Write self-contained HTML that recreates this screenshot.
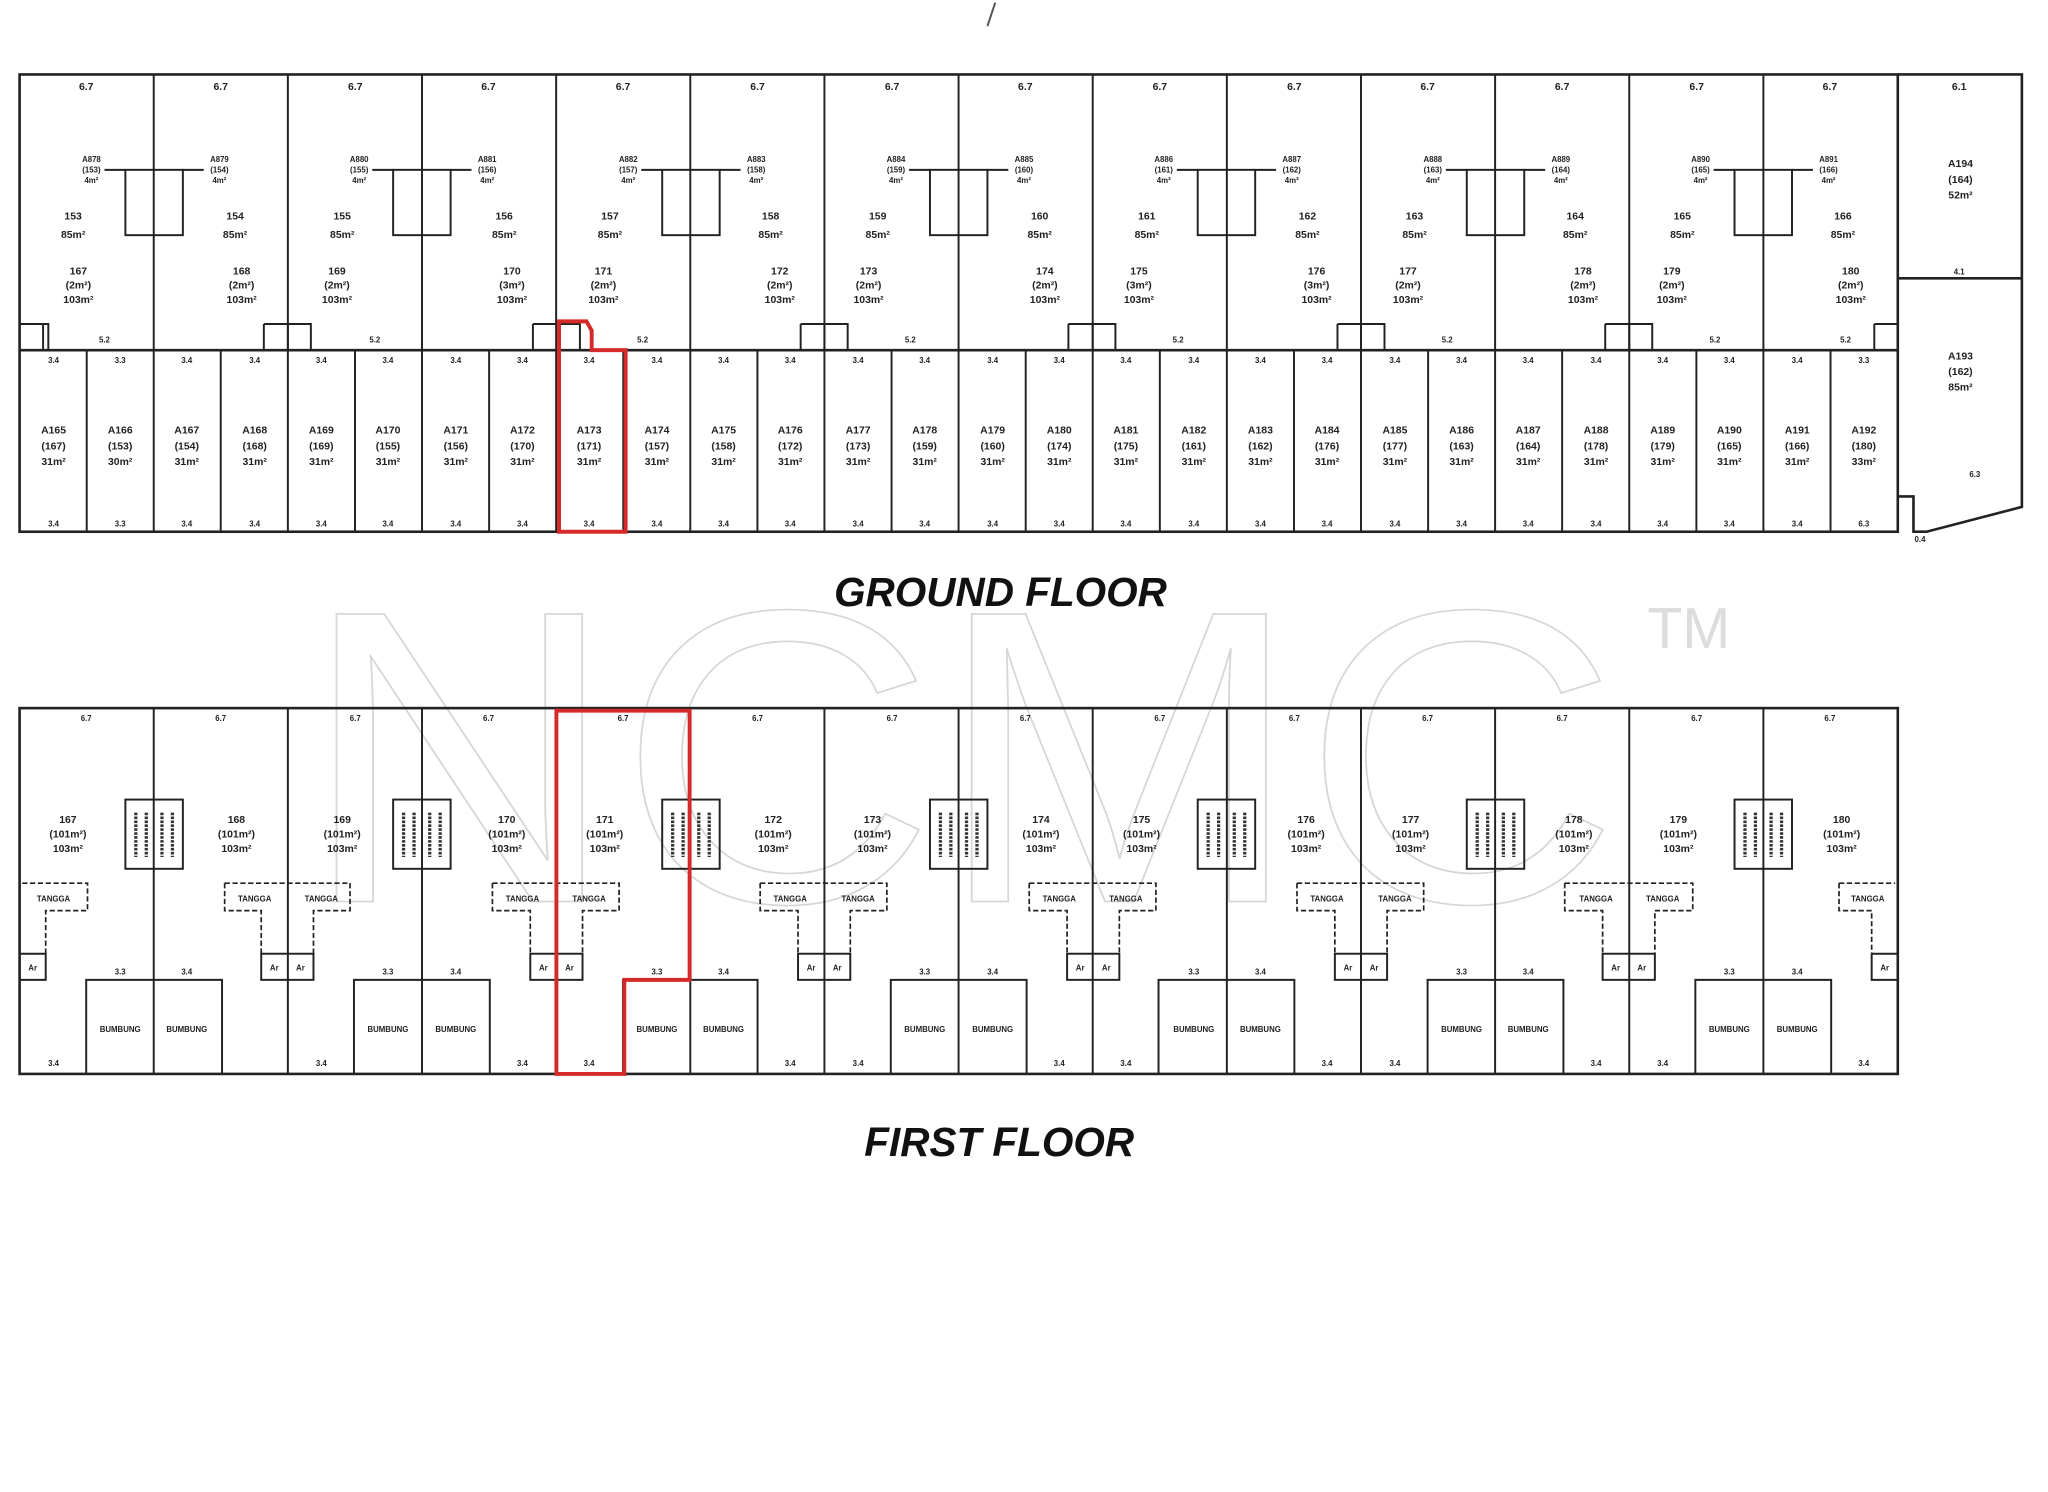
<!DOCTYPE html>
<html><head><meta charset="utf-8"><style>
html,body{margin:0;padding:0;background:#fff;}
svg{display:block;}
text{font-family:"Liberation Sans",sans-serif;fill:#222;text-anchor:middle;}
.s{font-size:8px;font-weight:bold;}
.m{font-size:9px;font-weight:bold;}
.t{font-size:6px;font-weight:bold;}
</style></head><body>
<svg width="2048" height="1492" viewBox="0 0 1568 1142" preserveAspectRatio="none" xmlns="http://www.w3.org/2000/svg">
<rect width="1568" height="1142" fill="#fff"/>
<!-- watermark -->
<text x="735" y="690" font-size="320" textLength="1010" lengthAdjust="spacingAndGlyphs" style="fill:none;stroke:#d6d6d6;stroke-width:1.3;font-family:'Liberation Sans',sans-serif">NCMC</text>
<text x="1293" y="496" font-size="44" style="fill:#dcdcdc">TM</text>
<line x1="762" y1="2" x2="756" y2="20" stroke="#555" stroke-width="1.5"/>

<g fill="none" stroke="#222" stroke-width="1.5">
<!-- GROUND FLOOR -->
<rect x="15" y="57" width="1438" height="350" stroke-width="2"/>
<line x1="15" y1="268" x2="1453" y2="268" stroke-width="2"/>
<path d="M117.7 57V268M220.4 57V268M323.1 57V268M425.8 57V268M528.5 57V268M631.2 57V268M733.9 57V268M836.6 57V268M939.3 57V268M1042 57V268M1144.7 57V268M1247.4 57V268M1350.1 57V268"/>
<path d="M66.4 268V407M117.7 268V407M169 268V407M220.4 268V407M271.8 268V407M323.1 268V407M374.5 268V407M425.8 268V407M477.2 268V407M528.5 268V407M579.9 268V407M631.2 268V407M682.6 268V407M733.9 268V407M785.3 268V407M836.6 268V407M888 268V407M939.3 268V407M990.7 268V407M1042 268V407M1093.4 268V407M1144.7 268V407M1196 268V407M1247.4 268V407M1298.8 268V407M1350.1 268V407M1401.5 268V407"/>
<!-- cores -->
<rect x="96" y="130" width="44" height="50"/><rect x="301" y="130" width="44" height="50"/><rect x="507" y="130" width="44" height="50"/><rect x="712" y="130" width="44" height="50"/><rect x="917" y="130" width="44" height="50"/><rect x="1123" y="130" width="44" height="50"/><rect x="1328" y="130" width="44" height="50"/>
<path d="M80 130H96M140 130H156M285 130H301M345 130H361M491 130H507M551 130H567M696 130H712M756 130H772M901 130H917M961 130H977M1107 130H1123M1167 130H1183M1312 130H1328M1372 130H1388"/>
<!-- small stairs -->
<path d="M15 248H37V268M33 248V268"/>
<path d="M202 248H238V268M202 248V268M220.4 248V268"/>
<path d="M408 248H444V268M408 248V268"/>
<path d="M613 248H649V268M613 248V268M631.2 248V268"/>
<path d="M818 248H854V268M818 248V268M836.6 248V268"/>
<path d="M1024 248H1060V268M1024 248V268M1042 248V268"/>
<path d="M1229 248H1265V268M1229 248V268M1247.4 248V268"/>
<path d="M1435 248H1453M1435 248V268"/>
<!-- right wing -->
<path d="M1453 57H1548V388L1475 407H1465V380H1453M1453 213H1548" stroke-width="2"/>
<!-- FIRST FLOOR -->
<rect x="15" y="542" width="1438" height="280" stroke-width="2"/>
<path d="M117.7 542V822M220.4 542V822M323.1 542V822M425.8 542V822M528.5 542V822M631.2 542V822M733.9 542V822M836.6 542V822M939.3 542V822M1042 542V822M1144.7 542V822M1247.4 542V822M1350.1 542V822"/>
<rect x="96" y="612" width="44" height="53"/><rect x="301" y="612" width="44" height="53"/><rect x="507" y="612" width="44" height="53"/><rect x="712" y="612" width="44" height="53"/><rect x="917" y="612" width="44" height="53"/><rect x="1123" y="612" width="44" height="53"/><rect x="1328" y="612" width="44" height="53"/>
<!-- bumbung -->
<path d="M66 822V750H170V822M271 822V750H375V822M477 822V750H580V822M682 822V750H786V822M887 822V750H991V822M1093 822V750H1197V822M1298 822V750H1402V822"/>
<!-- Ar boxes -->
<path d="M15 730H35V750H15"/>
<rect x="200" y="730" width="40" height="20"/><rect x="406" y="730" width="40" height="20"/><rect x="611" y="730" width="40" height="20"/><rect x="817" y="730" width="40" height="20"/><rect x="1022" y="730" width="40" height="20"/><rect x="1227" y="730" width="40" height="20"/>
<path d="M1433 730H1453M1433 730V750H1453"/>
</g>
<!-- dashed tangga -->
<g fill="none" stroke="#222" stroke-width="1.3" stroke-dasharray="4,2">
<path d="M17 676H67V697H35V730"/>
<path d="M172 676H268V697H240V730M172 676V697H200V730"/>
<path d="M377 676H474V697H446V730M377 676V697H406V730"/>
<path d="M582 676H679V697H651V730M582 676V697H611V730"/>
<path d="M788 676H885V697H857V730M788 676V697H817V730"/>
<path d="M993 676H1090V697H1062V730M993 676V697H1022V730"/>
<path d="M1198 676H1296V697H1267V730M1198 676V697H1227V730"/>
<path d="M1408 676H1451M1408 676V697H1433V730"/>
</g>
<!-- red outlines -->
<g fill="none" stroke="#d42a2a" stroke-width="3">
<path d="M428 407V246H449L453 253V268H479V407Z"/>
<path d="M426 544H528V750H478V822H426Z"/>
</g>

<!-- Ground upper labels -->
<g class="s">
<text x="66" y="69">6.7</text><text x="169" y="69">6.7</text><text x="272" y="69">6.7</text><text x="374" y="69">6.7</text><text x="477" y="69">6.7</text><text x="580" y="69">6.7</text><text x="683" y="69">6.7</text><text x="785" y="69">6.7</text><text x="888" y="69">6.7</text><text x="991" y="69">6.7</text><text x="1093" y="69">6.7</text><text x="1196" y="69">6.7</text><text x="1299" y="69">6.7</text><text x="1401" y="69">6.7</text><text x="1500" y="69">6.1</text>
<text x="56" y="168">153</text><text x="56" y="182">85m²</text>
<text x="180" y="168">154</text><text x="180" y="182">85m²</text>
<text x="262" y="168">155</text><text x="262" y="182">85m²</text>
<text x="386" y="168">156</text><text x="386" y="182">85m²</text>
<text x="467" y="168">157</text><text x="467" y="182">85m²</text>
<text x="590" y="168">158</text><text x="590" y="182">85m²</text>
<text x="672" y="168">159</text><text x="672" y="182">85m²</text>
<text x="796" y="168">160</text><text x="796" y="182">85m²</text>
<text x="878" y="168">161</text><text x="878" y="182">85m²</text>
<text x="1001" y="168">162</text><text x="1001" y="182">85m²</text>
<text x="1083" y="168">163</text><text x="1083" y="182">85m²</text>
<text x="1206" y="168">164</text><text x="1206" y="182">85m²</text>
<text x="1288" y="168">165</text><text x="1288" y="182">85m²</text>
<text x="1411" y="168">166</text><text x="1411" y="182">85m²</text>
</g>
<g class="t">
<text x="70" y="124">A878</text><text x="70" y="132">(153)</text><text x="70" y="140">4m²</text>
<text x="168" y="124">A879</text><text x="168" y="132">(154)</text><text x="168" y="140">4m²</text>
<text x="275" y="124">A880</text><text x="275" y="132">(155)</text><text x="275" y="140">4m²</text>
<text x="373" y="124">A881</text><text x="373" y="132">(156)</text><text x="373" y="140">4m²</text>
<text x="481" y="124">A882</text><text x="481" y="132">(157)</text><text x="481" y="140">4m²</text>
<text x="579" y="124">A883</text><text x="579" y="132">(158)</text><text x="579" y="140">4m²</text>
<text x="686" y="124">A884</text><text x="686" y="132">(159)</text><text x="686" y="140">4m²</text>
<text x="784" y="124">A885</text><text x="784" y="132">(160)</text><text x="784" y="140">4m²</text>
<text x="891" y="124">A886</text><text x="891" y="132">(161)</text><text x="891" y="140">4m²</text>
<text x="989" y="124">A887</text><text x="989" y="132">(162)</text><text x="989" y="140">4m²</text>
<text x="1097" y="124">A888</text><text x="1097" y="132">(163)</text><text x="1097" y="140">4m²</text>
<text x="1195" y="124">A889</text><text x="1195" y="132">(164)</text><text x="1195" y="140">4m²</text>
<text x="1302" y="124">A890</text><text x="1302" y="132">(165)</text><text x="1302" y="140">4m²</text>
<text x="1400" y="124">A891</text><text x="1400" y="132">(166)</text><text x="1400" y="140">4m²</text>
</g>
<g class="s">
<text x="60" y="210">167</text><text x="60" y="221">(2m²)</text><text x="60" y="232">103m²</text>
<text x="185" y="210">168</text><text x="185" y="221">(2m²)</text><text x="185" y="232">103m²</text>
<text x="258" y="210">169</text><text x="258" y="221">(2m²)</text><text x="258" y="232">103m²</text>
<text x="392" y="210">170</text><text x="392" y="221">(3m²)</text><text x="392" y="232">103m²</text>
<text x="462" y="210">171</text><text x="462" y="221">(2m²)</text><text x="462" y="232">103m²</text>
<text x="597" y="210">172</text><text x="597" y="221">(2m²)</text><text x="597" y="232">103m²</text>
<text x="665" y="210">173</text><text x="665" y="221">(2m²)</text><text x="665" y="232">103m²</text>
<text x="800" y="210">174</text><text x="800" y="221">(2m²)</text><text x="800" y="232">103m²</text>
<text x="872" y="210">175</text><text x="872" y="221">(3m²)</text><text x="872" y="232">103m²</text>
<text x="1008" y="210">176</text><text x="1008" y="221">(3m²)</text><text x="1008" y="232">103m²</text>
<text x="1078" y="210">177</text><text x="1078" y="221">(2m²)</text><text x="1078" y="232">103m²</text>
<text x="1212" y="210">178</text><text x="1212" y="221">(2m²)</text><text x="1212" y="232">103m²</text>
<text x="1280" y="210">179</text><text x="1280" y="221">(2m²)</text><text x="1280" y="232">103m²</text>
<text x="1417" y="210">180</text><text x="1417" y="221">(2m²)</text><text x="1417" y="232">103m²</text>
</g>
<g class="t">
<text x="80" y="262">5.2</text><text x="287" y="262">5.2</text><text x="492" y="262">5.2</text><text x="697" y="262">5.2</text><text x="902" y="262">5.2</text><text x="1108" y="262">5.2</text><text x="1313" y="262">5.2</text><text x="1413" y="262">5.2</text>
</g>
<!-- Ground lower labels -->
<g class="t">
<text x="41" y="278">3.4</text><text x="92" y="278">3.3</text><text x="143" y="278">3.4</text><text x="195" y="278">3.4</text><text x="246" y="278">3.4</text><text x="297" y="278">3.4</text><text x="349" y="278">3.4</text><text x="400" y="278">3.4</text><text x="451" y="278">3.4</text><text x="503" y="278">3.4</text><text x="554" y="278">3.4</text><text x="605" y="278">3.4</text><text x="657" y="278">3.4</text><text x="708" y="278">3.4</text><text x="760" y="278">3.4</text><text x="811" y="278">3.4</text><text x="862" y="278">3.4</text><text x="914" y="278">3.4</text><text x="965" y="278">3.4</text><text x="1016" y="278">3.4</text><text x="1068" y="278">3.4</text><text x="1119" y="278">3.4</text><text x="1170" y="278">3.4</text><text x="1222" y="278">3.4</text><text x="1273" y="278">3.4</text><text x="1324" y="278">3.4</text><text x="1376" y="278">3.4</text><text x="1427" y="278">3.3</text>
<text x="41" y="403">3.4</text><text x="92" y="403">3.3</text><text x="143" y="403">3.4</text><text x="195" y="403">3.4</text><text x="246" y="403">3.4</text><text x="297" y="403">3.4</text><text x="349" y="403">3.4</text><text x="400" y="403">3.4</text><text x="451" y="403">3.4</text><text x="503" y="403">3.4</text><text x="554" y="403">3.4</text><text x="605" y="403">3.4</text><text x="657" y="403">3.4</text><text x="708" y="403">3.4</text><text x="760" y="403">3.4</text><text x="811" y="403">3.4</text><text x="862" y="403">3.4</text><text x="914" y="403">3.4</text><text x="965" y="403">3.4</text><text x="1016" y="403">3.4</text><text x="1068" y="403">3.4</text><text x="1119" y="403">3.4</text><text x="1170" y="403">3.4</text><text x="1222" y="403">3.4</text><text x="1273" y="403">3.4</text><text x="1324" y="403">3.4</text><text x="1376" y="403">3.4</text><text x="1427" y="403">6.3</text>
<text x="1470" y="415">0.4</text><text x="1500" y="210">4.1</text><text x="1512" y="365">6.3</text>
</g>
<g class="s">
<text x="41" y="332">A165</text><text x="41" y="344">(167)</text><text x="41" y="356">31m²</text>
<text x="92" y="332">A166</text><text x="92" y="344">(153)</text><text x="92" y="356">30m²</text>
<text x="143" y="332">A167</text><text x="143" y="344">(154)</text><text x="143" y="356">31m²</text>
<text x="195" y="332">A168</text><text x="195" y="344">(168)</text><text x="195" y="356">31m²</text>
<text x="246" y="332">A169</text><text x="246" y="344">(169)</text><text x="246" y="356">31m²</text>
<text x="297" y="332">A170</text><text x="297" y="344">(155)</text><text x="297" y="356">31m²</text>
<text x="349" y="332">A171</text><text x="349" y="344">(156)</text><text x="349" y="356">31m²</text>
<text x="400" y="332">A172</text><text x="400" y="344">(170)</text><text x="400" y="356">31m²</text>
<text x="451" y="332">A173</text><text x="451" y="344">(171)</text><text x="451" y="356">31m²</text>
<text x="503" y="332">A174</text><text x="503" y="344">(157)</text><text x="503" y="356">31m²</text>
<text x="554" y="332">A175</text><text x="554" y="344">(158)</text><text x="554" y="356">31m²</text>
<text x="605" y="332">A176</text><text x="605" y="344">(172)</text><text x="605" y="356">31m²</text>
<text x="657" y="332">A177</text><text x="657" y="344">(173)</text><text x="657" y="356">31m²</text>
<text x="708" y="332">A178</text><text x="708" y="344">(159)</text><text x="708" y="356">31m²</text>
<text x="760" y="332">A179</text><text x="760" y="344">(160)</text><text x="760" y="356">31m²</text>
<text x="811" y="332">A180</text><text x="811" y="344">(174)</text><text x="811" y="356">31m²</text>
<text x="862" y="332">A181</text><text x="862" y="344">(175)</text><text x="862" y="356">31m²</text>
<text x="914" y="332">A182</text><text x="914" y="344">(161)</text><text x="914" y="356">31m²</text>
<text x="965" y="332">A183</text><text x="965" y="344">(162)</text><text x="965" y="356">31m²</text>
<text x="1016" y="332">A184</text><text x="1016" y="344">(176)</text><text x="1016" y="356">31m²</text>
<text x="1068" y="332">A185</text><text x="1068" y="344">(177)</text><text x="1068" y="356">31m²</text>
<text x="1119" y="332">A186</text><text x="1119" y="344">(163)</text><text x="1119" y="356">31m²</text>
<text x="1170" y="332">A187</text><text x="1170" y="344">(164)</text><text x="1170" y="356">31m²</text>
<text x="1222" y="332">A188</text><text x="1222" y="344">(178)</text><text x="1222" y="356">31m²</text>
<text x="1273" y="332">A189</text><text x="1273" y="344">(179)</text><text x="1273" y="356">31m²</text>
<text x="1324" y="332">A190</text><text x="1324" y="344">(165)</text><text x="1324" y="356">31m²</text>
<text x="1376" y="332">A191</text><text x="1376" y="344">(166)</text><text x="1376" y="356">31m²</text>
<text x="1427" y="332">A192</text><text x="1427" y="344">(180)</text><text x="1427" y="356">33m²</text>
<text x="1501" y="128">A194</text><text x="1501" y="140">(164)</text><text x="1501" y="152">52m²</text>
<text x="1501" y="275">A193</text><text x="1501" y="287">(162)</text><text x="1501" y="299">85m²</text>
</g>

<text x="766" y="464" style="font-size:31px;font-weight:bold;font-style:italic;fill:#111">GROUND FLOOR</text>

<!-- First floor labels -->
<g class="t">
<text x="66" y="552">6.7</text><text x="169" y="552">6.7</text><text x="272" y="552">6.7</text><text x="374" y="552">6.7</text><text x="477" y="552">6.7</text><text x="580" y="552">6.7</text><text x="683" y="552">6.7</text><text x="785" y="552">6.7</text><text x="888" y="552">6.7</text><text x="991" y="552">6.7</text><text x="1093" y="552">6.7</text><text x="1196" y="552">6.7</text><text x="1299" y="552">6.7</text><text x="1401" y="552">6.7</text>
<text x="41" y="690">TANGGA</text><text x="195" y="690">TANGGA</text><text x="246" y="690">TANGGA</text><text x="400" y="690">TANGGA</text><text x="451" y="690">TANGGA</text><text x="605" y="690">TANGGA</text><text x="657" y="690">TANGGA</text><text x="811" y="690">TANGGA</text><text x="862" y="690">TANGGA</text><text x="1016" y="690">TANGGA</text><text x="1068" y="690">TANGGA</text><text x="1222" y="690">TANGGA</text><text x="1273" y="690">TANGGA</text><text x="1430" y="690">TANGGA</text>
<text x="92" y="790">BUMBUNG</text><text x="143" y="790">BUMBUNG</text><text x="297" y="790">BUMBUNG</text><text x="349" y="790">BUMBUNG</text><text x="503" y="790">BUMBUNG</text><text x="554" y="790">BUMBUNG</text><text x="708" y="790">BUMBUNG</text><text x="760" y="790">BUMBUNG</text><text x="914" y="790">BUMBUNG</text><text x="965" y="790">BUMBUNG</text><text x="1119" y="790">BUMBUNG</text><text x="1170" y="790">BUMBUNG</text><text x="1324" y="790">BUMBUNG</text><text x="1376" y="790">BUMBUNG</text>
<text x="25" y="743">Ar</text><text x="210" y="743">Ar</text><text x="230" y="743">Ar</text><text x="416" y="743">Ar</text><text x="436" y="743">Ar</text><text x="621" y="743">Ar</text><text x="641" y="743">Ar</text><text x="827" y="743">Ar</text><text x="847" y="743">Ar</text><text x="1032" y="743">Ar</text><text x="1052" y="743">Ar</text><text x="1237" y="743">Ar</text><text x="1257" y="743">Ar</text><text x="1443" y="743">Ar</text>
<text x="41" y="816">3.4</text><text x="246" y="816">3.4</text><text x="400" y="816">3.4</text><text x="451" y="816">3.4</text><text x="605" y="816">3.4</text><text x="657" y="816">3.4</text><text x="811" y="816">3.4</text><text x="862" y="816">3.4</text><text x="1016" y="816">3.4</text><text x="1068" y="816">3.4</text><text x="1222" y="816">3.4</text><text x="1273" y="816">3.4</text><text x="1427" y="816">3.4</text>
<text x="92" y="746">3.3</text><text x="143" y="746">3.4</text><text x="297" y="746">3.3</text><text x="349" y="746">3.4</text><text x="503" y="746">3.3</text><text x="554" y="746">3.4</text><text x="708" y="746">3.3</text><text x="760" y="746">3.4</text><text x="914" y="746">3.3</text><text x="965" y="746">3.4</text><text x="1119" y="746">3.3</text><text x="1170" y="746">3.4</text><text x="1324" y="746">3.3</text><text x="1376" y="746">3.4</text>
</g>
<g class="s">
<text x="52" y="630">167</text><text x="52" y="641">(101m²)</text><text x="52" y="652">103m²</text>
<text x="181" y="630">168</text><text x="181" y="641">(101m²)</text><text x="181" y="652">103m²</text>
<text x="262" y="630">169</text><text x="262" y="641">(101m²)</text><text x="262" y="652">103m²</text>
<text x="388" y="630">170</text><text x="388" y="641">(101m²)</text><text x="388" y="652">103m²</text>
<text x="463" y="630">171</text><text x="463" y="641">(101m²)</text><text x="463" y="652">103m²</text>
<text x="592" y="630">172</text><text x="592" y="641">(101m²)</text><text x="592" y="652">103m²</text>
<text x="668" y="630">173</text><text x="668" y="641">(101m²)</text><text x="668" y="652">103m²</text>
<text x="797" y="630">174</text><text x="797" y="641">(101m²)</text><text x="797" y="652">103m²</text>
<text x="874" y="630">175</text><text x="874" y="641">(101m²)</text><text x="874" y="652">103m²</text>
<text x="1000" y="630">176</text><text x="1000" y="641">(101m²)</text><text x="1000" y="652">103m²</text>
<text x="1080" y="630">177</text><text x="1080" y="641">(101m²)</text><text x="1080" y="652">103m²</text>
<text x="1205" y="630">178</text><text x="1205" y="641">(101m²)</text><text x="1205" y="652">103m²</text>
<text x="1285" y="630">179</text><text x="1285" y="641">(101m²)</text><text x="1285" y="652">103m²</text>
<text x="1410" y="630">180</text><text x="1410" y="641">(101m²)</text><text x="1410" y="652">103m²</text>
</g>
<!-- core stair hatching -->
<g stroke="#333" stroke-width="2.5" stroke-dasharray="2,1">
<path d="M104 622V656M112 622V656M124 622V656M132 622V656"/>
<path d="M309 622V656M317 622V656M329 622V656M337 622V656"/>
<path d="M515 622V656M523 622V656M535 622V656M543 622V656"/>
<path d="M720 622V656M728 622V656M740 622V656M748 622V656"/>
<path d="M925 622V656M933 622V656M945 622V656M953 622V656"/>
<path d="M1131 622V656M1139 622V656M1151 622V656M1159 622V656"/>
<path d="M1336 622V656M1344 622V656M1356 622V656M1364 622V656"/>
</g>

<text x="765" y="885" style="font-size:31px;font-weight:bold;font-style:italic;fill:#111">FIRST FLOOR</text>
</svg>
</body></html>
